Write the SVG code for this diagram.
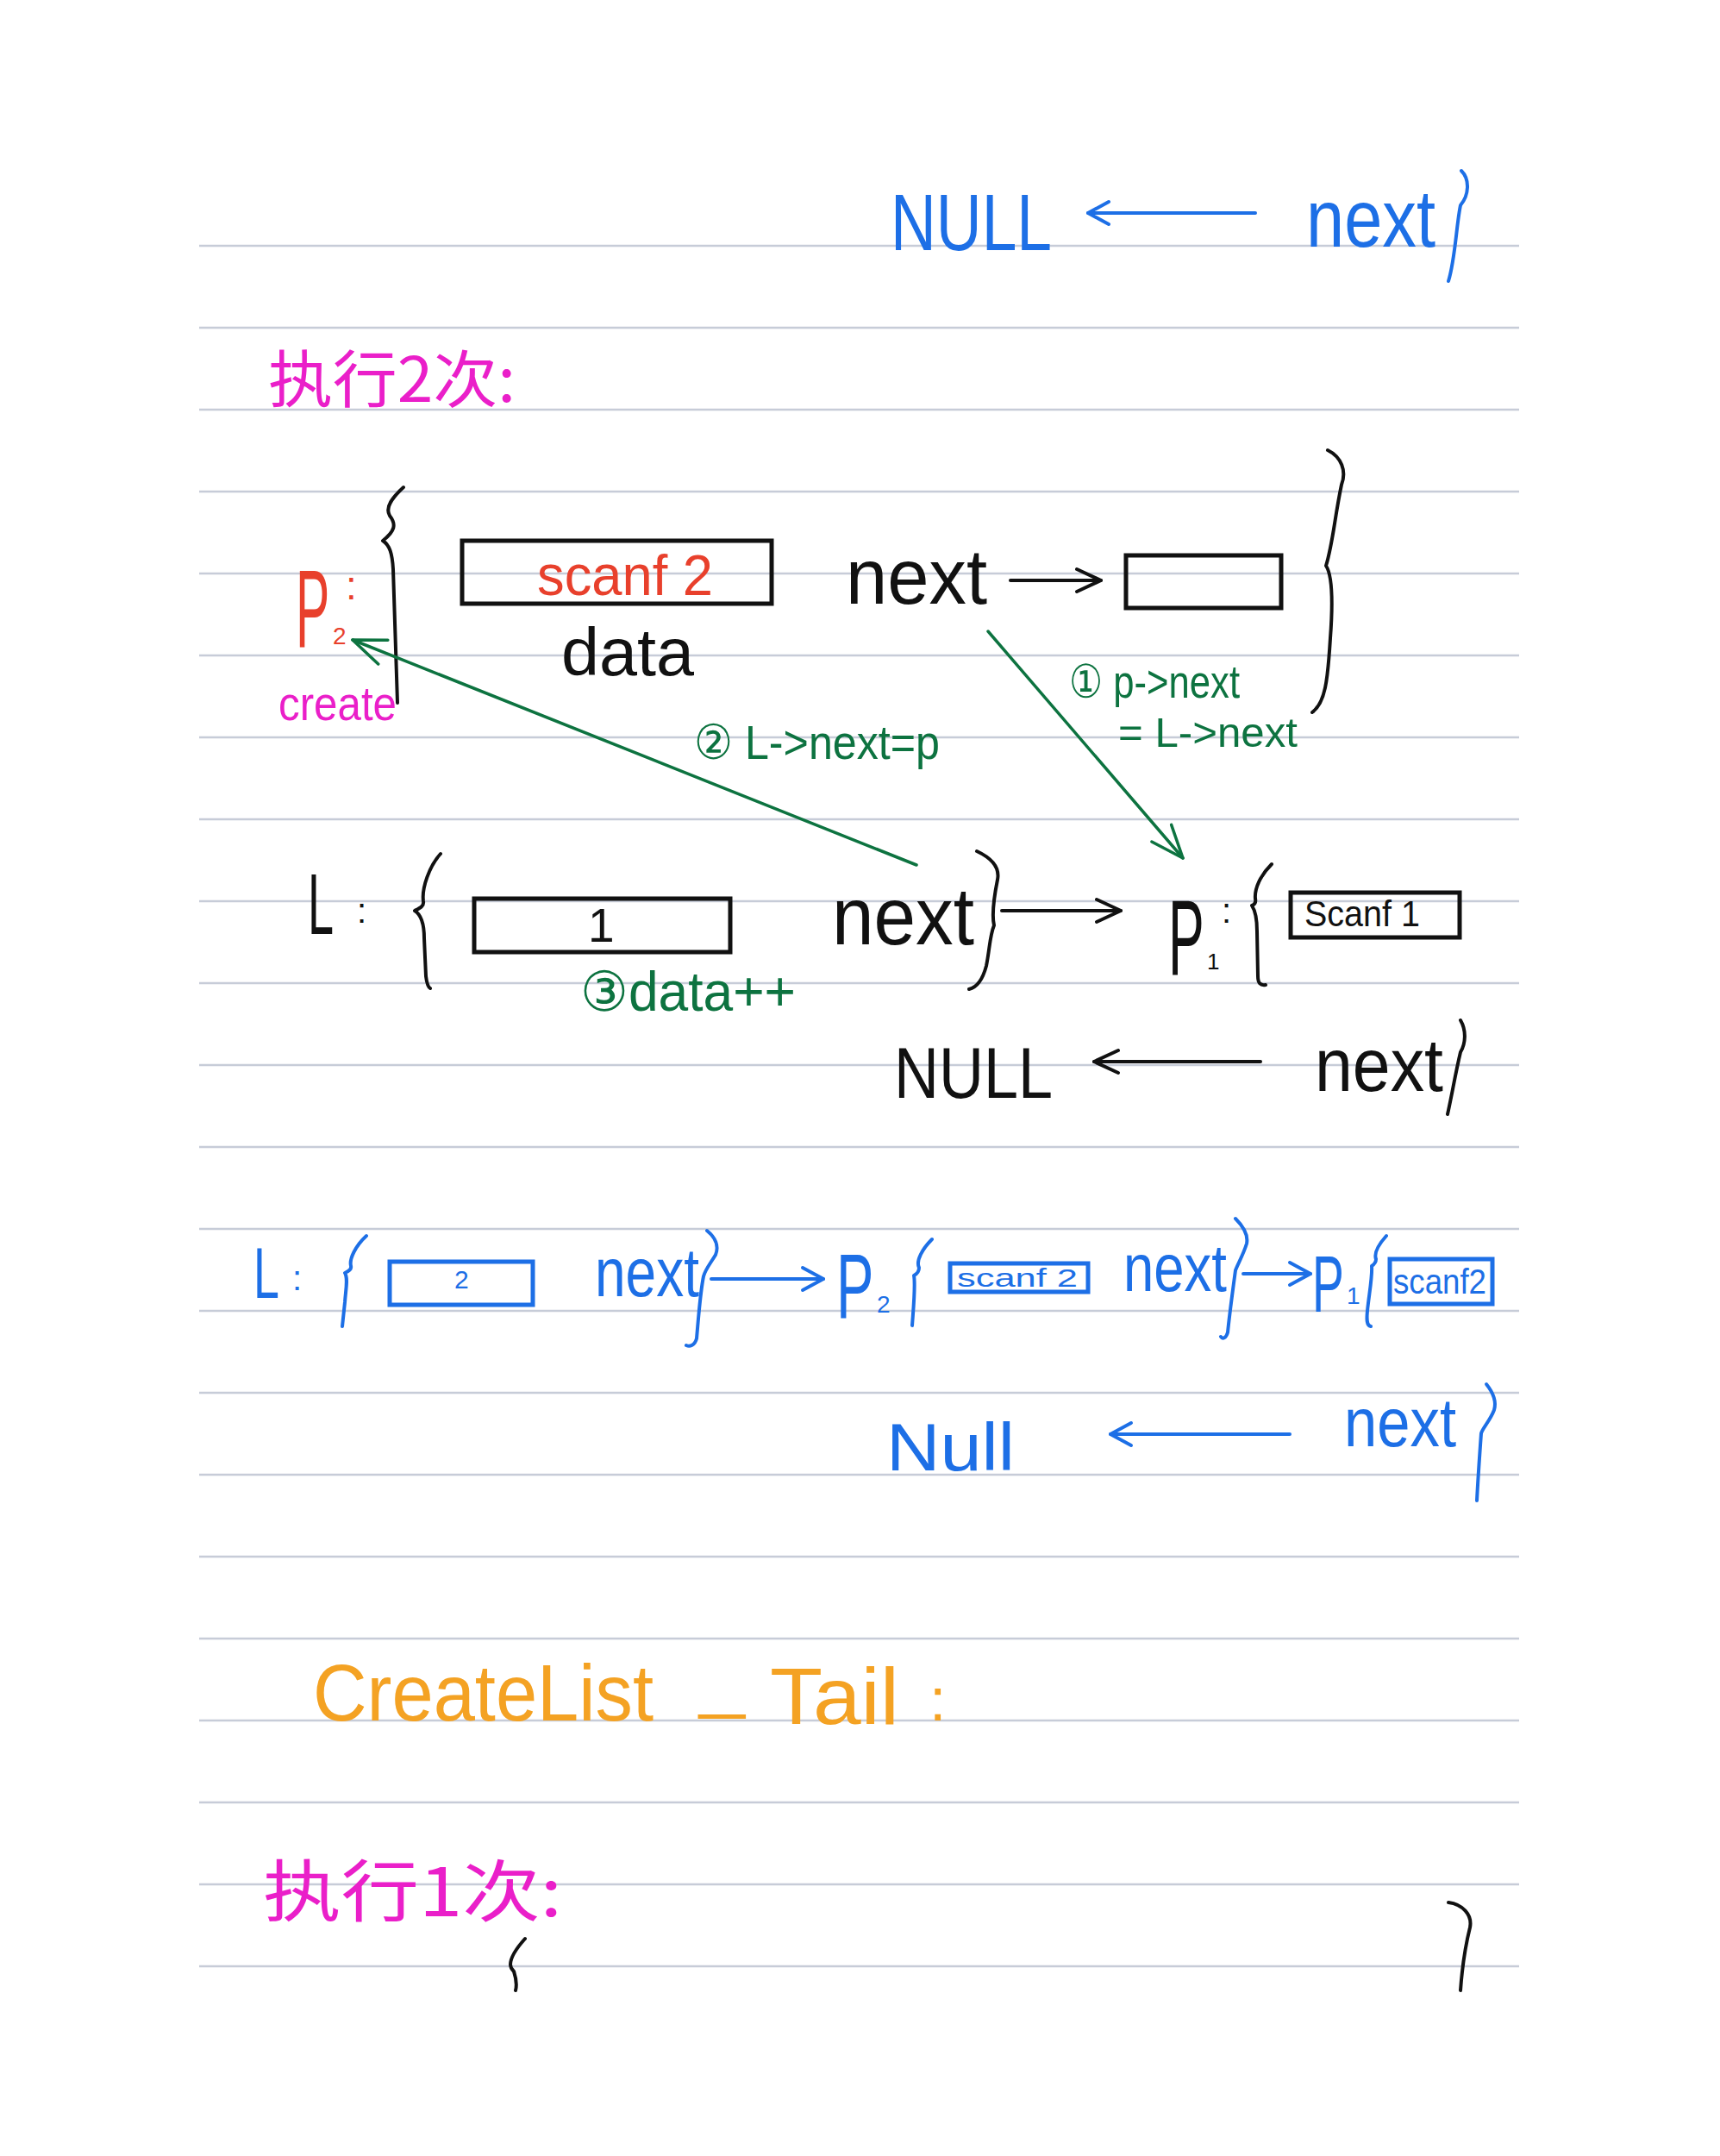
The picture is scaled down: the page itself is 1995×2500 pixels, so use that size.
<svg xmlns="http://www.w3.org/2000/svg" width="1995" height="2500" viewBox="0 0 1995 2500">
<style>
text { font-family: "Liberation Sans", "DejaVu Sans", "Noto Sans CJK SC", sans-serif; }
.cjk { font-family: "Noto Sans CJK SC", "Noto Sans CJK JP", sans-serif; }
.k { fill: #111111; }
.b { fill: #1d6fe6; }
.r { fill: #e8402c; }
.m { fill: #ea1fc9; }
.g { fill: #0d7340; }
.o { fill: #f4a223; }
.rule { stroke: #c7ccd8; stroke-width: 2.5; fill: none; }
.br { fill: none; stroke-width: 4; stroke-linecap: round; stroke-linejoin: round; }
.sk { stroke: #111111; }
.sb { stroke: #1d6fe6; }
.sg { stroke: #0d7340; }
.box { fill: none; stroke-width: 5; }
.ln { fill: none; stroke-width: 4; stroke-linecap: round; }
.gl { fill: none; stroke-width: 3.5; stroke-linecap: round; }
</style>
<defs>
<marker id="ahK" viewBox="-32 -16 34 32" refX="0" refY="0" markerWidth="34" markerHeight="32" markerUnits="userSpaceOnUse" orient="auto" overflow="visible">
<path d="M-28,-13 L0,0 L-28,13" fill="none" stroke="#111111" stroke-width="4" stroke-linecap="round" stroke-linejoin="round"/>
</marker>
<marker id="ahB" viewBox="-32 -16 34 32" refX="0" refY="0" markerWidth="34" markerHeight="32" markerUnits="userSpaceOnUse" orient="auto" overflow="visible">
<path d="M-24,-13 L0,0 L-24,13" fill="none" stroke="#1d6fe6" stroke-width="4" stroke-linecap="round" stroke-linejoin="round"/>
</marker>
<marker id="ahG" viewBox="-42 -18 44 36" refX="0" refY="0" markerWidth="44" markerHeight="36" markerUnits="userSpaceOnUse" orient="auto" overflow="visible">
<path d="M-38,-15 L0,0 L-38,15" fill="none" stroke="#0d7340" stroke-width="3.5" stroke-linecap="round" stroke-linejoin="round"/>
</marker>
</defs>
<rect x="0" y="0" width="1995" height="2500" fill="#ffffff"/>

<g id="ruled-lines" class="rule">
<path d="M231,285H1762 M231,380H1762 M231,475H1762 M231,570H1762 M231,665H1762 M231,760H1762 M231,855H1762 M231,950H1762 M231,1045H1762 M231,1140H1762 M231,1235H1762 M231,1330H1762 M231,1425H1762 M231,1520H1762 M231,1615H1762 M231,1710H1762 M231,1805H1762 M231,1900H1762 M231,1995H1762 M231,2090H1762 M231,2185H1762 M231,2280H1762"/>
</g>

<!-- top: NULL <- next} (blue) -->
<g id="top-null">
<text class="b" x="1033" y="290" font-size="92" textLength="187" lengthAdjust="spacingAndGlyphs">NULL</text>
</g>
<g id="top-next">
<text class="b" x="1515" y="286" font-size="95" textLength="150" lengthAdjust="spacingAndGlyphs">next</text>
<path class="br sb" d="M1695,198 C1705,208 1704,226 1694,238 C1689,262 1688,300 1680,326"/>
</g>

<g id="title-exec2">
<text class="m cjk" x="311" y="466" font-size="72" textLength="287" lengthAdjust="spacingAndGlyphs">执行2次:</text>
</g>

<!-- p2 node -->
<g id="p2-label">
<text class="r" transform="translate(343,750) scale(0.46,1)" font-size="128">P</text>
<text class="r" x="386" y="747" font-size="28">2</text>
<text class="r" x="401" y="695" font-size="46">:</text>
<text class="m" x="323" y="835" font-size="56" textLength="137" lengthAdjust="spacingAndGlyphs">create</text>
</g>
<g id="p2-node">
<path class="br sk" d="M468,565 C456,576 446,588 452,598 C460,608 458,616 444,627 C452,632 455,642 456,660 L461,815"/>
<rect class="box sk" x="536" y="627" width="359" height="73"/>
<text class="r" x="623" y="690" font-size="66" textLength="204" lengthAdjust="spacingAndGlyphs">scanf 2</text>
<text class="k" x="651" y="783" font-size="78" textLength="154" lengthAdjust="spacingAndGlyphs">data</text>
<text class="k" x="981" y="700" font-size="90" textLength="164" lengthAdjust="spacingAndGlyphs">next</text>
<rect class="box sk" x="1306" y="644" width="180" height="61"/>
<path class="br sk" d="M1540,522 C1556,530 1562,546 1556,562 C1548,600 1546,630 1538,656 C1546,668 1546,700 1543,740 C1540,790 1537,815 1522,826"/>
</g>

<g id="annotations">
<text class="g" x="1240" y="809" font-size="54" textLength="198" lengthAdjust="spacingAndGlyphs">① p-&gt;next</text>
<text class="g" x="1297" y="866" font-size="48" textLength="208" lengthAdjust="spacingAndGlyphs">= L-&gt;next</text>
<text class="g" x="805" y="880" font-size="56" textLength="285" lengthAdjust="spacingAndGlyphs">② L-&gt;next=p</text>
<text class="g" x="673" y="1172" font-size="64" textLength="250" lengthAdjust="spacingAndGlyphs">③data++</text>
</g>

<!-- L row (black) -->
<g id="L-node">
<text class="k" transform="translate(357,1083) scale(0.54,1)" font-size="100">L</text>
<text class="k" x="414" y="1070" font-size="40">:</text>
<path class="br sk" d="M511,990 C498,1004 489,1030 491,1045 C492,1051 487,1053 481,1056 C489,1061 492,1072 492,1088 L494,1132 C495,1140 497,1145 499,1146"/>
<rect class="box sk" x="550" y="1042" width="297" height="62"/>
<text class="k" x="682" y="1092" font-size="55">1</text>
<text class="k" x="965" y="1095" font-size="95" textLength="165" lengthAdjust="spacingAndGlyphs">next</text>
<path class="br sk" d="M1133,987 C1150,995 1160,1005 1157,1020 C1153,1040 1150,1060 1153,1073 C1148,1085 1148,1100 1144,1120 C1140,1135 1133,1145 1124,1147"/>
</g>
<g id="p1-node">
<text class="k" transform="translate(1355,1130) scale(0.5,1)" font-size="125">P</text>
<text class="k" x="1400" y="1124" font-size="26">1</text>
<text class="k" x="1417" y="1070" font-size="40">:</text>
<path class="br sk" d="M1475,1002 C1462,1015 1455,1030 1456,1042 C1457,1047 1455,1049 1452,1050 C1456,1056 1458,1065 1458,1080 L1459,1132 C1459,1140 1462,1143 1468,1142"/>
<rect class="box sk" x="1497" y="1035" width="196" height="52"/>
<text class="k" x="1513" y="1074" font-size="42" textLength="134" lengthAdjust="spacingAndGlyphs">Scanf 1</text>
</g>
<g id="null-black">
<text class="k" x="1037" y="1273" font-size="84" textLength="184" lengthAdjust="spacingAndGlyphs">NULL</text>
</g>
<g id="next-black">
<text class="k" x="1525" y="1265" font-size="88" textLength="149" lengthAdjust="spacingAndGlyphs">next</text>
<path class="br sk" d="M1694,1183 C1701,1195 1700,1210 1694,1220 C1688,1245 1684,1270 1679,1292"/>
</g>

<!-- blue row -->
<g id="L-blue">
<text class="b" transform="translate(294,1505) scale(0.64,1)" font-size="84">L</text>
<text class="b" x="339" y="1496" font-size="40">:</text>
<path class="br sb" d="M425,1433 C412,1445 405,1460 407,1468 C408,1472 405,1474 400,1476 C404,1482 401,1495 400,1510 L397,1538"/>
<rect class="box sb" x="452" y="1463" width="166" height="50"/>
<text class="b" x="527" y="1494" font-size="30">2</text>
<text class="b" x="690" y="1503" font-size="80" textLength="121" lengthAdjust="spacingAndGlyphs">next</text>
<path class="br sb" d="M820,1427 C830,1435 834,1445 830,1455 C824,1465 818,1472 816,1480 C812,1500 810,1530 808,1552 C806,1560 800,1562 796,1560"/>
</g>
<g id="p2-blue">
<text class="b" transform="translate(970,1528) scale(0.62,1)" font-size="105">P</text>
<text class="b" x="1017" y="1522" font-size="28">2</text>
<path class="br sb" d="M1081,1437 C1070,1448 1062,1462 1066,1470 C1066,1474 1064,1477 1060,1479 C1062,1490 1060,1510 1058,1537"/>
<rect class="box sb" x="1102" y="1465" width="160" height="33"/>
<text class="b" x="1110" y="1492" font-size="30" textLength="140" lengthAdjust="spacingAndGlyphs">scanf 2</text>
<text class="b" x="1303" y="1497" font-size="78" textLength="120" lengthAdjust="spacingAndGlyphs">next</text>
<path class="br sb" d="M1433,1413 C1442,1422 1448,1432 1446,1442 C1442,1455 1436,1465 1433,1473 C1430,1495 1426,1525 1424,1545 C1422,1552 1418,1553 1416,1550"/>
</g>
<g id="p1-blue">
<text class="b" transform="translate(1522,1521) scale(0.6,1)" font-size="92">P</text>
<text class="b" x="1562" y="1512" font-size="28">1</text>
<path class="br sb" d="M1608,1433 C1600,1442 1593,1452 1596,1460 C1596,1464 1594,1466 1591,1468 C1592,1480 1588,1500 1586,1520 C1585,1530 1585,1537 1590,1538"/>
<rect class="box sb" x="1612" y="1460" width="119" height="52"/>
<text class="b" x="1616" y="1500" font-size="40" textLength="108" lengthAdjust="spacingAndGlyphs">scanf2</text>
</g>
<g id="null-blue">
<text class="b" x="1028" y="1705" font-size="78" textLength="149" lengthAdjust="spacingAndGlyphs">Null</text>
</g>
<g id="next-blue">
<text class="b" x="1559" y="1677" font-size="80" textLength="130" lengthAdjust="spacingAndGlyphs">next</text>
<path class="br sb" d="M1724,1605 C1732,1615 1736,1625 1733,1635 C1728,1648 1720,1655 1718,1662 C1716,1690 1714,1720 1713,1740"/>
</g>

<!-- CreateList_Tail -->
<g id="title-tail">
<text class="o" x="363" y="1995" font-size="92" textLength="395" lengthAdjust="spacingAndGlyphs">CreateList</text>
<text class="o" x="811" y="1977" font-size="80" textLength="53" lengthAdjust="spacingAndGlyphs">_</text>
<text class="o" x="893" y="1999" font-size="92" textLength="150" lengthAdjust="spacingAndGlyphs">Tail</text>
<text class="o" x="1078" y="1995" font-size="70">:</text>
</g>
<g id="title-exec1">
<text class="m cjk" x="305" y="2222" font-size="78" textLength="347" lengthAdjust="spacingAndGlyphs">执行1次:</text>
<path class="br sk" d="M609,2248 C600,2258 592,2270 592,2278 C592,2282 594,2284 596,2286 C598,2292 600,2300 598,2308"/>
<path class="br sk" d="M1680,2206 C1696,2208 1708,2220 1705,2235 C1700,2255 1696,2280 1694,2308"/>
</g>

<g id="connectors">
<line class="ln sb" x1="1456" y1="247" x2="1262" y2="247" marker-end="url(#ahB)"/>
<line class="ln sk" x1="1172" y1="673" x2="1277" y2="673" marker-end="url(#ahK)"/>
<line class="gl sg" x1="1146" y1="732" x2="1372" y2="995" marker-end="url(#ahG)"/>
<line class="gl sg" x1="1063" y1="1003" x2="409" y2="742" marker-end="url(#ahG)"/>
<line class="ln sk" x1="1162" y1="1056" x2="1300" y2="1056" marker-end="url(#ahK)"/>
<line class="ln sk" x1="1462" y1="1231" x2="1269" y2="1231" marker-end="url(#ahK)"/>
<line class="ln sb" x1="825" y1="1483" x2="955" y2="1483" marker-end="url(#ahB)"/>
<line class="ln sb" x1="1442" y1="1477" x2="1520" y2="1477" marker-end="url(#ahB)"/>
<line class="ln sb" x1="1496" y1="1663" x2="1288" y2="1663" marker-end="url(#ahB)"/>
</g>
</svg>
